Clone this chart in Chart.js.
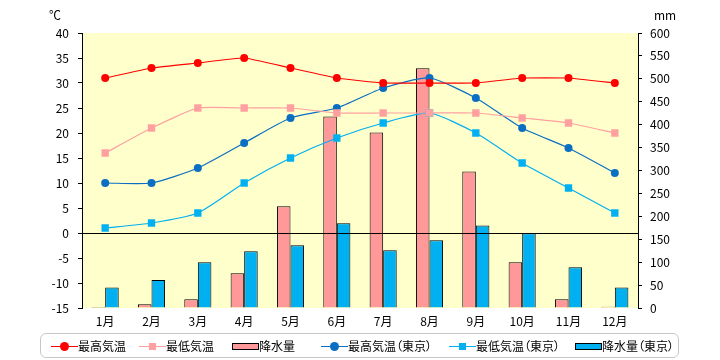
<!DOCTYPE html>
<html><head><meta charset="utf-8">
<script src="https://cdn.jsdelivr.net/npm/chart.js@4/dist/chart.umd.min.js"></script>
<style>
html,body{margin:0;padding:0;background:#fff;}
#wrap{position:relative;width:720px;height:360px;font-family:"Noto Sans CJK JP","Noto Sans",sans-serif;}
canvas{position:absolute;left:0;top:0;}
.t{position:absolute;font-size:12px;color:#000;line-height:14px;white-space:nowrap;}
#legend{position:absolute;left:40px;top:333px;width:639px;height:25px;border:1px solid #c8c8c8;border-radius:6px;box-sizing:border-box;}
.li{position:absolute;top:0;height:25px;}
.ln{position:absolute;top:12px;height:1px;}
.mk{position:absolute;}
.bx{position:absolute;top:9px;height:5px;border:1px solid #000;}
.lt{position:absolute;top:5px;font-size:12px;line-height:14px;white-space:nowrap;font-feature-settings:"palt";}
</style></head>
<body>
<div id="wrap">
<canvas id="c" width="720" height="360"></canvas>
<div class="t" style="left:49px;top:8px;">℃</div>
<div class="t" style="left:654px;top:8px;">mm</div>
<div id="legend"></div>
</div>
<script>
const months = ["1月","2月","3月","4月","5月","6月","7月","8月","9月","10月","11月","12月"];
const maxTemp = [31,33,34,35,33,31,30,30,30,31,31,30];
const minTemp = [16,21,25,25,25,24,24,24,24,23,22,20];
const precip = [2,8,19,76,222,418,383,523,298,100,19,3];
const maxTempTokyo = [10,10,13,18,23,25,29,31,27,21,17,12];
const minTempTokyo = [1,2,4,10,15,19,22,24,20,14,9,4];
const precipTokyo = [45,61,100,124,137,185,126,148,180,163,89,45];
const seriesNames = ["最高気温","最低気温","降水量","最高気温（東京）","最低気温（東京）","降水量（東京）"];
const tempTicks = {min:-15,max:40,step:5};
const precipTicks = {min:0,max:600,step:50};

const C = {red:"#ff0000", pink:"#ff9999", blue:"#0a6fc2", cyan:"#00b0f0", bg:"#ffffcc"};
const FONT = {family:'"Noto Sans CJK JP","Noto Sans",sans-serif', size:12};

const bgPlugin = {
  id:'bg',
  beforeDraw(chart){
    const a = chart.chartArea, ctx = chart.ctx;
    ctx.save(); ctx.fillStyle = C.bg; ctx.fillRect(a.left, a.top, a.right-a.left, a.bottom-a.top); ctx.restore();
  },
  afterDatasetsDraw(chart){
    const a = chart.chartArea, ctx = chart.ctx;
    const y = Math.round(chart.scales.y.getPixelForValue(0)) + 0.5;
    ctx.save(); ctx.strokeStyle = '#000'; ctx.lineWidth = 1;
    ctx.beginPath(); ctx.moveTo(a.left, y); ctx.lineTo(a.right, y); ctx.stroke(); ctx.restore();
  }
};

function lineDs(label, data, color, style, r, tension){
  return {type:'line', label, data, yAxisID:'y', borderColor:color, backgroundColor:color,
    borderWidth:1.2, pointStyle:style, pointRadius:r, pointHoverRadius:r, pointBorderWidth:0,
    pointBackgroundColor:color, tension:tension, fill:false};
}
function barDs(label, data, color){
  return {type:'bar', label, data, yAxisID:'y2', backgroundColor:color, borderColor:'#000', borderWidth:1,
    categoryPercentage:0.585, barPercentage:1.0};
}

new Chart(document.getElementById('c'), {
  data:{
    labels: months,
    datasets:[
      lineDs(seriesNames[0], maxTemp, C.red, 'circle', 4, 0.12),
      lineDs(seriesNames[1], minTemp, "#ffa0a0", 'rect', 5.2, 0.15),
      lineDs(seriesNames[3], maxTempTokyo, C.blue, 'circle', 4, 0.2),
      lineDs(seriesNames[4], minTempTokyo, C.cyan, 'rect', 5.2, 0.2),
      barDs(seriesNames[2], precip, C.pink),
      barDs(seriesNames[5], precipTokyo, C.cyan)
    ]
  },
  options:{
    responsive:false, animation:false,
    layout:{padding:{top:33,left:0,right:0,bottom:0}},
    plugins:{legend:{display:false}, tooltip:{enabled:false}},
    scales:{
      x:{type:'category', offset:true,
        grid:{display:false, drawTicks:false}, border:{display:false},
        ticks:{font:FONT, color:'#000', padding:6, maxRotation:0},
        afterFit(s){ s.height = 52; }
      },
      y:{position:'left', min:tempTicks.min, max:tempTicks.max,
        ticks:{stepSize:tempTicks.step, font:FONT, color:'#000', padding:9},
        grid:{drawOnChartArea:false, drawTicks:true, tickLength:4, tickColor:'#000'},
        border:{display:true, color:'#000', width:1},
        afterFit(s){ s.width = 82; }
      },
      y2:{position:'right', min:precipTicks.min, max:precipTicks.max,
        ticks:{stepSize:precipTicks.step, font:FONT, color:'#000', padding:8},
        grid:{drawOnChartArea:false, drawTicks:true, tickLength:4, tickColor:'#000'},
        border:{display:true, color:'#000', width:1},
        afterFit(s){ s.width = 82; }
      }
    }
  },
  plugins:[bgPlugin]
});

// HTML legend
const legendItems = [
  {name:seriesNames[0], kind:'line', color:C.red, marker:'circle', x:10},
  {name:seriesNames[1], kind:'line', color:"#ffa0a0", marker:'rect', x:98},
  {name:seriesNames[2], kind:'bar', color:C.pink, x:191},
  {name:seriesNames[3], kind:'line', color:C.blue, marker:'circle', x:280},
  {name:seriesNames[4], kind:'line', color:C.cyan, marker:'rect', x:408},
  {name:seriesNames[5], kind:'bar', color:C.cyan, x:534}
];
const lg = document.getElementById('legend');
legendItems.forEach(it=>{
  const d = document.createElement('div'); d.className='li'; d.style.left = it.x+'px';
  let html = '';
  if(it.kind==='line'){
    html += `<div class="ln" style="left:0;width:27px;background:${it.color}"></div>`;
    if(it.marker==='circle') html += `<div class="mk" style="left:9px;top:8px;width:9px;height:9px;border-radius:50%;background:${it.color}"></div>`;
    else html += `<div class="mk" style="left:10px;top:9px;width:7px;height:7px;background:${it.color}"></div>`;
  } else {
    html += `<div class="bx" style="left:0;width:25px;background:${it.color}"></div>`;
  }
  html += `<div class="lt" style="left:27px">${it.name}</div>`;
  d.innerHTML = html; lg.appendChild(d);
});
</script>
</body></html>
